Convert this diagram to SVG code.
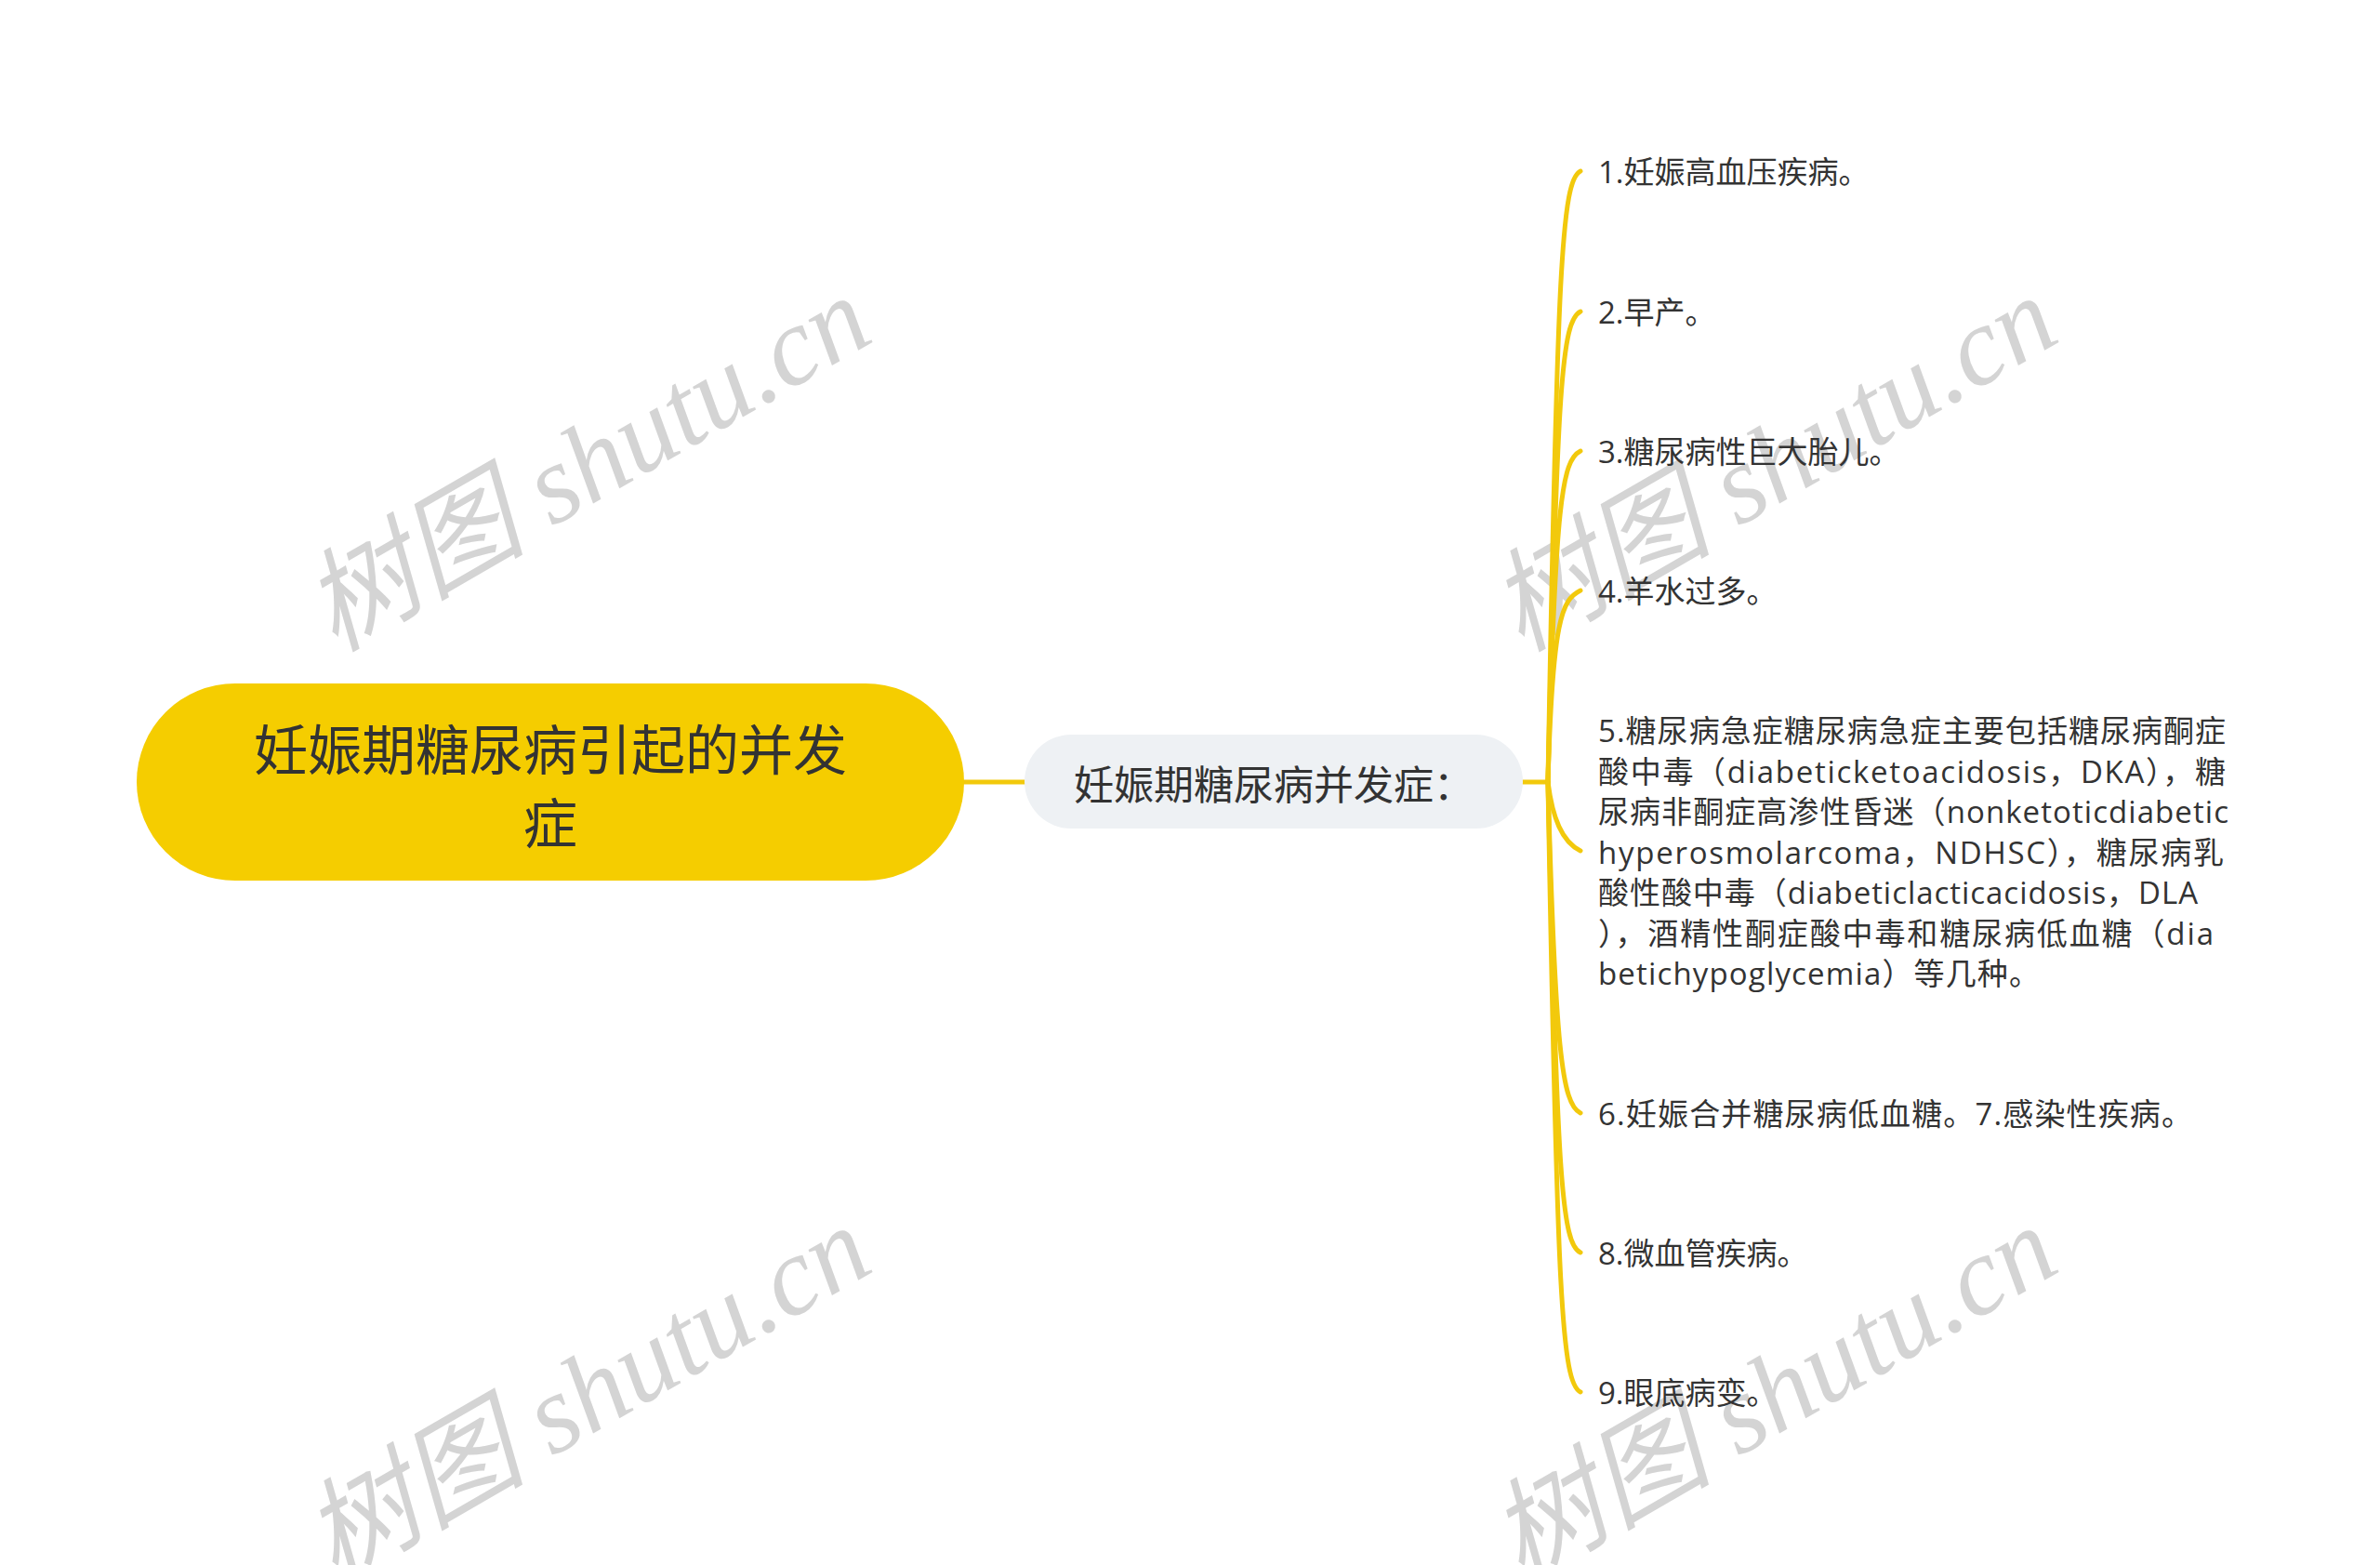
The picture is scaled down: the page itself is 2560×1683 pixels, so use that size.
<svg xmlns="http://www.w3.org/2000/svg" width="2560" height="1683" viewBox="0 0 2560 1683">
<style>
.wm{font-family:"Liberation Serif","Noto Sans CJK SC",serif;font-size:120px;fill:#d4d4d4;font-style:italic}
.leaf{font-family:"Open Sans","Noto Sans CJK SC",sans-serif;font-size:33px;fill:#333333;dominant-baseline:central}
.root{font-family:"Noto Sans CJK SC","Noto Sans",sans-serif;font-size:58px;fill:#333333;text-anchor:middle;dominant-baseline:central}
.mid{font-family:"Noto Sans CJK SC","Noto Sans",sans-serif;font-size:43px;fill:#333333;text-anchor:middle;dominant-baseline:central}
.con{fill:none;stroke:#f2c90c;stroke-width:5;stroke-linecap:round}
</style>
<rect width="2560" height="1683" fill="#ffffff"/>
<g id="watermarks">
<text class="wm" transform="translate(360,702) rotate(-30)">树图 shutu.cn</text>
<text class="wm" transform="translate(1636,702) rotate(-30)">树图 shutu.cn</text>
<text class="wm" transform="translate(360,1702) rotate(-30)">树图 shutu.cn</text>
<text class="wm" transform="translate(1636,1702) rotate(-30)">树图 shutu.cn</text>
</g>
<g id="connectors">
<path class="con" d="M1037,841 L1102,841"/>
<path class="con" d="M1638,841 L1665,841"/>
<path class="con" d="M1665,841 C1675,283 1680,194 1700,184"/>
<path class="con" d="M1665,841 C1675,412 1680,345 1700,335"/>
<path class="con" d="M1665,841 C1673,540 1680,495 1700,485"/>
<path class="con" d="M1665,841 C1670,665 1680,645 1700,635"/>
<path class="con" d="M1665,841 C1670,880 1680,905 1700,915"/>
<path class="con" d="M1665,841 C1673,1130 1680,1187 1700,1197"/>
<path class="con" d="M1665,841 C1675,1270 1680,1337 1700,1347"/>
<path class="con" d="M1665,841 C1675,1400 1680,1487 1700,1497"/>
</g>
<g id="root">
<rect x="147" y="735" width="890" height="212" rx="106" ry="106" fill="#f5cd00"/>
<text class="root" x="592" y="803">妊娠期糖尿病引起的并发</text>
<text class="root" x="592" y="882">症</text>
</g>
<g id="mid">
<rect x="1102" y="790" width="536" height="101" rx="50.5" ry="50.5" fill="#eef1f4"/>
<text class="mid" x="1370" y="841">妊娠期糖尿病并发症：</text>
</g>
<g id="leaf1"><text class="leaf" x="1719" y="184">1.妊娠高血压疾病。</text></g>
<g id="leaf2"><text class="leaf" x="1719" y="335">2.早产。</text></g>
<g id="leaf3"><text class="leaf" x="1719" y="485">3.糖尿病性巨大胎儿。</text></g>
<g id="leaf4"><text class="leaf" x="1719" y="635">4.羊水过多。</text></g>
<g id="leaf5"><text class="leaf">
<tspan x="1719" y="785" textLength="675" lengthAdjust="spacing">5.糖尿病急症糖尿病急症主要包括糖尿病酮症</tspan>
<tspan x="1719" y="828.5" textLength="675" lengthAdjust="spacing">酸中毒（diabeticketoacidosis，DKA），糖</tspan>
<tspan x="1719" y="872" textLength="678" lengthAdjust="spacing">尿病非酮症高渗性昏迷（nonketoticdiabetic</tspan>
<tspan x="1719" y="915.5" textLength="673" lengthAdjust="spacing">hyperosmolarcoma，NDHSC），糖尿病乳</tspan>
<tspan x="1719" y="959" textLength="645" lengthAdjust="spacing">酸性酸中毒（diabeticlacticacidosis，DLA</tspan>
<tspan x="1719" y="1002.5" textLength="662" lengthAdjust="spacing">），酒精性酮症酸中毒和糖尿病低血糖（dia</tspan>
<tspan x="1719" y="1046" textLength="475" lengthAdjust="spacing">betichypoglycemia）等几种。</tspan>
</text></g>
<g id="leaf6"><text class="leaf" x="1719" y="1197" textLength="639" lengthAdjust="spacing">6.妊娠合并糖尿病低血糖。7.感染性疾病。</text></g>
<g id="leaf8"><text class="leaf" x="1719" y="1347">8.微血管疾病。</text></g>
<g id="leaf9"><text class="leaf" x="1719" y="1497">9.眼底病变。</text></g>
</svg>
